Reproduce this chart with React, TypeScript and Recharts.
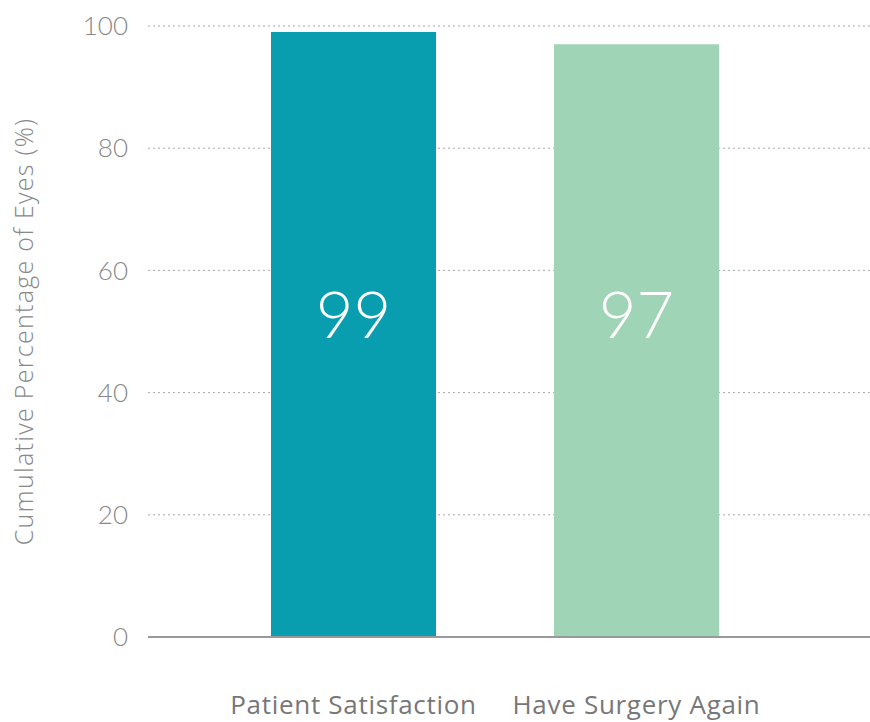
import React from 'react';
import { BarChart, Bar, XAxis, YAxis, CartesianGrid, Cell, LabelList } from 'recharts';

const categories = ['Patient Satisfaction', 'Have Surgery Again'];
const values = [99, 97];
const barColors = ['#089eb0', '#9fd4b6'];
const yTicks = [0, 20, 40, 60, 80, 100];

const data = categories.map((name, i) => ({ name, value: values[i] }));

const FONT = 'Lato, "Open Sans", sans-serif';
const WIDE = '"Open Sans", Lato, sans-serif';

const renderBarLabel = (props: any) => {
  const { x, y, width, height, value } = props;
  const bottom = y + height;
  return (
    <text
      x={x + width / 2}
      y={bottom - 324}
      textAnchor="middle"
      dominantBaseline="central"
      fill="#ffffff"
      fontFamily={FONT}
      fontWeight={300}
      fontSize={65}
    >
      {value}
    </text>
  );
};

export default function App() {
  return (
    <div style={{ position: 'absolute', left: 0, top: 0, width: 870, height: 722, background: '#fff' }}>
      <BarChart
        width={870}
        height={722}
        data={data}
        margin={{ top: 26, right: 0, bottom: 0, left: 0 }}
      >
        <CartesianGrid
          vertical={false}
          stroke="#a8a8a8"
          strokeDasharray="2 3"
          strokeWidth={1}
        />
        <XAxis
          dataKey="name"
          height={85}
          padding={{ left: 64, right: 92 }}
          axisLine={{ stroke: '#999999', strokeWidth: 2 }}
          tickLine={false}
          tickSize={0}
          tickMargin={59}
          tick={{ fill: '#777777', fontSize: 26, fontFamily: WIDE, fontWeight: 400, letterSpacing: 0.7 }}
          interval={0}
        />
        <YAxis
          width={148}
          domain={[0, 100]}
          ticks={yTicks}
          axisLine={false}
          tickLine={false}
          tickSize={0}
          tickMargin={20}
          tick={{ fill: '#888888', fontSize: 26, fontFamily: FONT, fontWeight: 300 }}
          label={{
            value: 'Cumulative Percentage of Eyes (%)',
            angle: -90,
            position: 'insideLeft',
            offset: 0,
            dx: 24,
            style: { fill: '#888888', fontSize: 25, fontFamily: WIDE, fontWeight: 300, letterSpacing: 1.3, textAnchor: 'middle' },
          }}
        />
        <Bar dataKey="value" barSize={165} isAnimationActive={false}>
          {data.map((d, i) => (
            <Cell key={d.name} fill={barColors[i]} />
          ))}
          <LabelList dataKey="value" content={renderBarLabel} />
        </Bar>
      </BarChart>
    </div>
  );
}
